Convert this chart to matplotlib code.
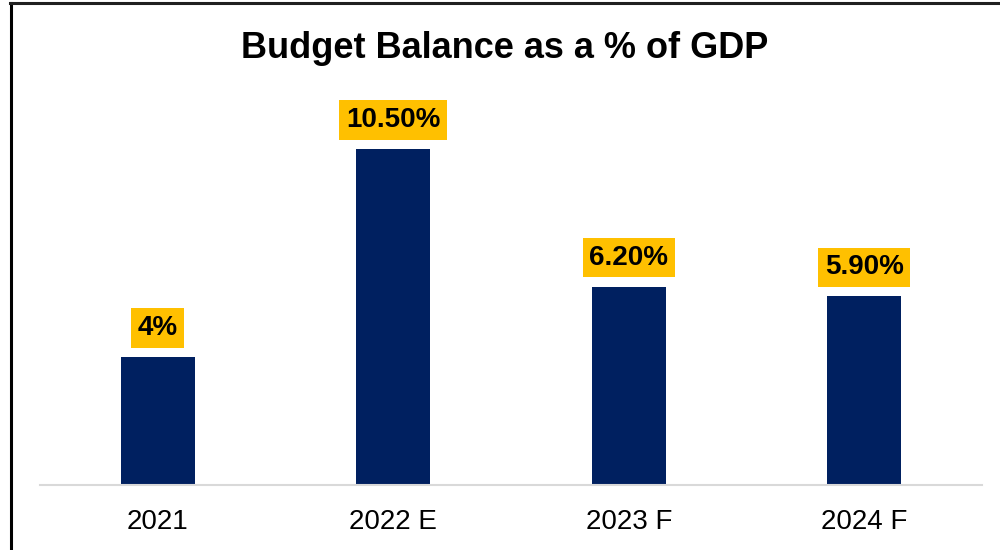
import matplotlib.pyplot as plt
from matplotlib.lines import Line2D

# data
years = ['2021', '2022 E', '2023 F', '2024 F']
balance = [4.0, 10.5, 6.2, 5.9]
labels = ['4%', '10.50%', '6.20%', '5.90%']

plt.rcParams['font.family'] = ['Liberation Sans', 'DejaVu Sans']

fig = plt.figure(figsize=(10, 5.5), dpi=100)
ax = fig.add_axes([0.040, 0.118, 0.942, 0.698])

x = range(len(years))
ax.bar(x, balance, width=0.314, color='#002060', zorder=2)

for xi, v, lab in zip(x, balance, labels):
    ax.annotate(lab, xy=(xi, v), xytext=(0, 21), textcoords='offset points',
                ha='center', va='center', fontsize=20, fontweight='bold',
                color='black',
                bbox=dict(boxstyle='square,pad=0.24', facecolor='#FFC000',
                          edgecolor='none'))

ax.set_xlim(-0.5, 3.5)
ax.set_ylim(0, 12)
ax.set_xticks(list(x))
ax.set_xticklabels(years, fontsize=20)
ax.tick_params(axis='x', length=0, pad=17)
ax.set_yticks([])
for side in ['left', 'right', 'top']:
    ax.spines[side].set_visible(False)
ax.spines['bottom'].set_color('#D9D9D9')
ax.spines['bottom'].set_linewidth(1.5)

fig.text(0.505, 0.9125, 'Budget Balance as a % of GDP', ha='center', va='center',
         fontsize=26, fontweight='bold')

# frame: left and top edges only
fig.lines.append(Line2D([0.011, 0.011], [0.0, 0.995], transform=fig.transFigure,
                        color='black', linewidth=2.2))
fig.lines.append(Line2D([0.010, 1.0], [0.994, 0.994], transform=fig.transFigure,
                        color='#202020', linewidth=2.2))

fig.savefig('out.png', dpi=100)
